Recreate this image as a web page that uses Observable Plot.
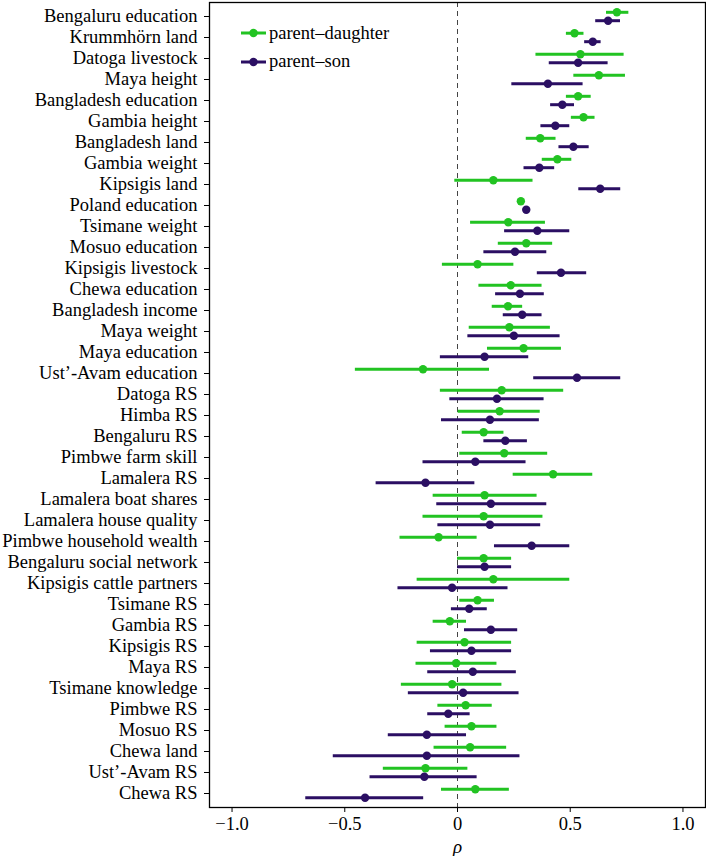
<!DOCTYPE html>
<html><head><meta charset="utf-8">
<script src="https://cdn.jsdelivr.net/npm/d3@7"></script>
<script src="https://cdn.jsdelivr.net/npm/@observablehq/plot@0.6"></script>
<style>
body{margin:0;background:#fff}
#wrap{position:relative;width:706px;height:856px}
#legend{position:absolute;left:241px;top:19px;font-family:"Liberation Serif",serif;font-size:18.5px;color:#000}
.row{display:flex;align-items:center;height:28.4px;white-space:nowrap}
.row svg{margin-right:2px}
</style></head><body><div id="wrap"><div id="legend"></div></div>
<script>
const categories = ["Bengaluru education","Krummhörn land","Datoga livestock","Maya height","Bangladesh education","Gambia height","Bangladesh land","Gambia weight","Kipsigis land","Poland education","Tsimane weight","Mosuo education","Kipsigis livestock","Chewa education","Bangladesh income","Maya weight","Maya education","Ust’-Avam education","Datoga RS","Himba RS","Bengaluru RS","Pimbwe farm skill","Lamalera RS","Lamalera boat shares","Lamalera house quality","Pimbwe household wealth","Bengaluru social network","Kipsigis cattle partners","Tsimane RS","Gambia RS","Kipsigis RS","Maya RS","Tsimane knowledge","Pimbwe RS","Mosuo RS","Chewa land","Ust’-Avam RS","Chewa RS"];

const seriesNames = ["parent–daughter","parent–son"];
const seriesColors = ["#22c322","#2b0f63"];

const daughterEst = [0.707,0.519,0.545,0.627,0.535,0.559,0.367,0.443,0.159,0.281,0.225,0.305,0.089,0.236,0.224,0.230,0.293,-0.153,0.196,0.187,0.116,0.207,0.424,0.120,0.116,-0.084,0.116,0.159,0.089,-0.034,0.031,-0.006,-0.024,0.036,0.062,0.056,-0.142,0.079];
const daughterLo  = [0.661,0.483,0.348,0.516,0.483,0.505,0.305,0.376,-0.012,0.266,0.058,0.181,-0.067,0.095,0.154,0.052,0.133,-0.453,-0.076,0.003,0.021,0.010,0.247,-0.108,-0.153,-0.255,0.000,-0.179,0.010,-0.108,-0.179,-0.184,-0.249,-0.087,-0.055,-0.104,-0.329,-0.071];
const daughterHi  = [0.760,0.561,0.739,0.745,0.593,0.610,0.437,0.507,0.335,0.296,0.390,0.422,0.250,0.375,0.289,0.412,0.461,0.142,0.471,0.367,0.206,0.400,0.600,0.353,0.379,0.087,0.240,0.498,0.164,0.040,0.240,0.175,0.197,0.154,0.175,0.218,0.046,0.230];

const sonEst = [0.668,0.600,0.535,0.401,0.465,0.434,0.514,0.363,0.633,0.305,0.354,0.255,0.459,0.277,0.287,0.250,0.120,0.530,0.175,0.144,0.212,0.079,-0.142,0.148,0.144,0.329,0.120,-0.024,0.052,0.148,0.062,0.068,0.025,-0.041,-0.136,-0.136,-0.147,-0.410];
const sonLo  = [0.613,0.564,0.407,0.241,0.413,0.370,0.450,0.295,0.538,0.292,0.209,0.117,0.354,0.169,0.203,0.046,-0.076,0.338,-0.034,-0.071,0.117,-0.153,-0.361,-0.092,-0.087,0.164,0.000,-0.264,-0.027,0.031,-0.120,-0.132,-0.218,-0.132,-0.307,-0.551,-0.388,-0.673];
const sonHi  = [0.723,0.637,0.668,0.557,0.519,0.498,0.584,0.431,0.724,0.318,0.498,0.396,0.573,0.385,0.375,0.455,0.316,0.724,0.384,0.363,0.310,0.304,0.077,0.396,0.369,0.498,0.240,0.224,0.132,0.267,0.240,0.261,0.273,0.056,0.040,0.277,0.087,-0.150];

const xTicks = [-1, -0.5, 0, 0.5, 1];
const xTickLabels = ["−1.0","−0.5","0","0.5","1.0"];
const xLabel = "ρ";

const seriesData = [
  {name: seriesNames[0], est: daughterEst, lo: daughterLo, hi: daughterHi, dy: -4.2},
  {name: seriesNames[1], est: sonEst, lo: sonLo, hi: sonHi, dy: 4.2}
];

const marks = [
  Plot.ruleX([0], {stroke: "#444", strokeDasharray: "5,4", strokeWidth: 1})
];
for (const s of seriesData) {
  const rows = categories.map((c, i) => ({category: c, series: s.name, est: s.est[i], lo: s.lo[i], hi: s.hi[i]}));
  marks.push(Plot.ruleY(rows, {y: "category", x1: "lo", x2: "hi", stroke: "series", strokeWidth: 3, dy: s.dy}));
  marks.push(Plot.dot(rows, {x: "est", y: "category", fill: "series", r: 4.2, dy: s.dy}));
}
marks.push(Plot.frame({stroke: "#000", strokeWidth: 1.3}));
marks.push(Plot.axisY({tickSize: 5, tickPadding: 7, label: null}));
marks.push(Plot.axisX({ticks: xTicks, tickFormat: d => xTickLabels[xTicks.indexOf(d)], tickSize: 5, tickPadding: 4, label: null}));
marks.push(Plot.text([xLabel], {frameAnchor: "bottom", lineAnchor: "middle", dy: 39, fontStyle: "italic", fontSize: 19}));

const chart = Plot.plot({
  width: 706,
  height: 856,
  marginTop: 2,
  marginBottom: 49,
  marginLeft: 209,
  marginRight: 1,
  style: {fontFamily: "Liberation Serif, serif", fontSize: "18.5px", color: "#000", background: "#fff"},
  x: {domain: [-1.1, 1.1]},
  y: {type: "point", domain: categories, padding: 0.59},
  color: {domain: seriesNames, range: seriesColors},
  marks
});
const wrap = document.getElementById("wrap");
wrap.insertBefore(chart, wrap.firstChild);

const legend = document.getElementById("legend");
seriesNames.forEach((n, i) => {
  const row = document.createElement("div");
  row.className = "row";
  row.innerHTML = `<svg width="26" height="12"><line x1="0" x2="25" y1="6" y2="6" stroke="${seriesColors[i]}" stroke-width="3"/><circle cx="12.5" cy="6" r="4.2" fill="${seriesColors[i]}"/></svg><span>${n}</span>`;
  legend.appendChild(row);
});
</script></body></html>
